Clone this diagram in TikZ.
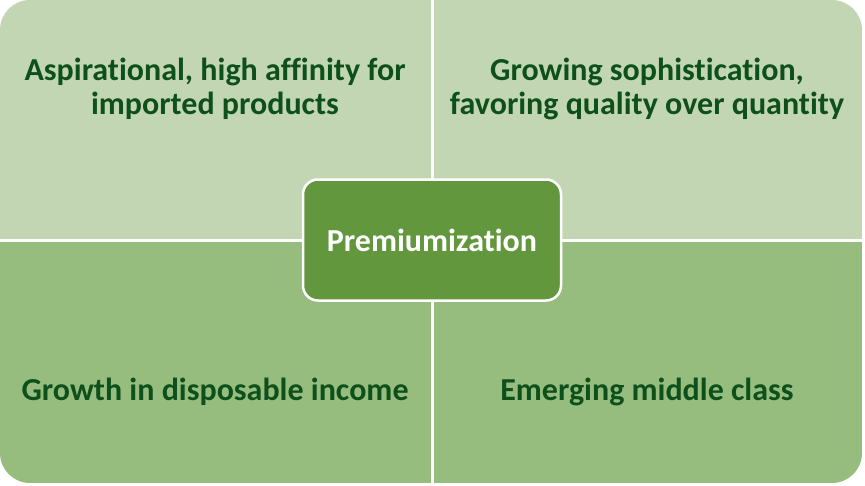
\documentclass[tikz,border=0pt]{standalone}
\usepackage{fontspec}
\setmainfont{Carlito}[Ligatures=NoCommon,Contextuals=NoAlternate]
\definecolor{topgreen}{RGB}{195,214,180}
\definecolor{botgreen}{RGB}{150,189,125}
\definecolor{midgreen}{RGB}{98,151,61}
\definecolor{txtgreen}{RGB}{14,80,28}
\tikzset{
  quadtext/.style={text=txtgreen, font=\bfseries\fontsize{32}{34}\selectfont, align=center},
  hub/.style={fill=midgreen, draw=white, line width=2.5pt, rounded corners=15pt, minimum width=258pt, minimum height=121pt, text=white, font=\bfseries\fontsize{32}{38}\selectfont},
  divider/.style={white, line width=3pt}
}
\begin{document}
\begin{tikzpicture}[x=1pt,y=-1pt]
\fill[white] (0,0) rectangle (865,485);
\useasboundingbox (0,0) rectangle (865,485);
\begin{scope}
\clip[rounded corners=30pt] (0,0) rectangle (862,483);
\fill[topgreen] (0,0) rectangle (862,240);
\fill[botgreen] (0,240) rectangle (862,483);
\end{scope}
\draw[divider] (432,0) -- (432,483);
\draw[divider] (0,240) -- (862,240);
\node[quadtext] (tl) at (215,89) {Aspirational, high affinity for\\imported products};
\node[quadtext] (tr) at (647,89) {Growing sophistication,\\favoring quality over quantity};
\node[quadtext] (bl) at (215,392) {Growth in disposable income};
\node[quadtext] (br) at (647,392) {Emerging middle class};
\node[hub] (c) at (432,240) {Premiumization};
\end{tikzpicture}
\end{document}
